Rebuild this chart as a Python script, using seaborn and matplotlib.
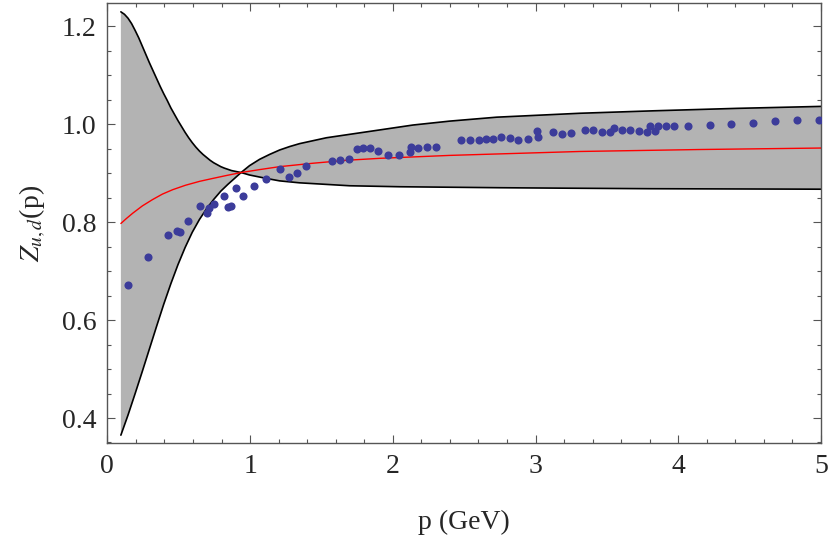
import numpy as np
import pandas as pd
import seaborn as sns
import matplotlib.pyplot as plt
from matplotlib.ticker import MultipleLocator, FormatStrFormatter

# bound that starts high and ends low
band_a_p = [0.095, 0.120, 0.145, 0.170, 0.195, 0.220, 0.245, 0.270, 0.295, 0.320,
            0.345, 0.370, 0.395, 0.420, 0.445, 0.470, 0.495, 0.520, 0.545, 0.570,
            0.595, 0.620, 0.645, 0.670, 0.695, 0.720, 0.745, 0.770, 0.795, 0.820,
            0.870, 0.937, 0.996, 1.114, 1.207, 1.347, 1.523, 1.698, 2.049, 2.400,
            2.751, 3.242, 3.804, 5.000]
band_a_z = [1.229, 1.224, 1.216, 1.205, 1.191, 1.176, 1.159, 1.142, 1.125, 1.109,
            1.093, 1.077, 1.062, 1.048, 1.033, 1.020, 1.007, 0.995, 0.983, 0.972,
            0.962, 0.953, 0.945, 0.938, 0.932, 0.926, 0.921, 0.917, 0.913, 0.910,
            0.905, 0.901, 0.896, 0.889, 0.884, 0.880, 0.877, 0.874, 0.872, 0.871,
            0.870, 0.869, 0.868, 0.867]

# bound that starts low and ends high
band_b_p = [0.095, 0.145, 0.195, 0.245, 0.295, 0.345, 0.395, 0.445, 0.495, 0.545,
            0.595, 0.645, 0.695, 0.745, 0.795, 0.845, 0.895, 0.937, 0.996, 1.067,
            1.137, 1.207, 1.277, 1.347, 1.535, 1.698, 1.909, 2.142, 2.400, 2.728,
            3.312, 3.827, 4.412, 5.000]
band_b_z = [0.365, 0.406, 0.450, 0.495, 0.541, 0.587, 0.632, 0.674, 0.713, 0.748,
            0.779, 0.805, 0.827, 0.846, 0.863, 0.877, 0.890, 0.901, 0.915, 0.928,
            0.938, 0.947, 0.954, 0.960, 0.972, 0.979, 0.988, 0.998, 1.006, 1.014,
            1.022, 1.027, 1.032, 1.036]

# red central curve
fit_p = [0.095, 0.133, 0.178, 0.246, 0.318, 0.386, 0.458, 0.547, 0.646, 0.739,
         0.835, 0.937, 1.067, 1.207, 1.441, 1.675, 1.909, 2.400, 3.312, 4.154,
         5.000]
fit_z = [0.797, 0.807, 0.818, 0.833, 0.846, 0.857, 0.866, 0.875, 0.883, 0.889,
         0.895, 0.901, 0.907, 0.913, 0.920, 0.926, 0.930, 0.936, 0.944, 0.948,
         0.951]

# lattice points
lat_p = [0.143, 0.285, 0.428, 0.491, 0.509, 0.568, 0.650, 0.696, 0.711, 0.750,
         0.816, 0.848, 0.865, 0.900, 0.951, 1.026, 1.110, 1.208, 1.273, 1.329,
         1.395, 1.577, 1.631, 1.696, 1.748, 1.790, 1.839, 1.897, 1.965, 2.042,
         2.121, 2.128, 2.177, 2.240, 2.306, 2.481, 2.542, 2.607, 2.652, 2.703,
         2.761, 2.820, 2.880, 2.950, 3.009, 3.020, 3.123, 3.186, 3.249, 3.345,
         3.404, 3.465, 3.521, 3.551, 3.607, 3.665, 3.726, 3.780, 3.803, 3.840,
         3.859, 3.915, 3.971, 4.067, 4.219, 4.369, 4.520, 4.677, 4.831, 4.989]
lat_z = [0.671, 0.729, 0.773, 0.782, 0.779, 0.803, 0.833, 0.818, 0.829, 0.837,
         0.854, 0.831, 0.833, 0.869, 0.854, 0.873, 0.888, 0.908, 0.892, 0.901,
         0.914, 0.924, 0.927, 0.929, 0.950, 0.952, 0.952, 0.944, 0.937, 0.937,
         0.943, 0.954, 0.952, 0.954, 0.954, 0.968, 0.967, 0.967, 0.969, 0.969,
         0.973, 0.972, 0.967, 0.970, 0.986, 0.974, 0.984, 0.980, 0.981, 0.988,
         0.988, 0.984, 0.983, 0.991, 0.988, 0.987, 0.986, 0.984, 0.995, 0.986,
         0.995, 0.995, 0.995, 0.997, 0.999, 1.001, 1.003, 1.006, 1.008, 1.009]

sns.set_style("ticks")
plt.rcParams['font.family'] = ['Liberation Serif', 'DejaVu Serif']
plt.rcParams['mathtext.fontset'] = 'stix'

fig = plt.figure(figsize=(8.3, 5.49), dpi=100)
ax = fig.add_axes([0.1293, 0.1931, 0.8599, 0.8014])

# gray band between the two bounds
ax.fill(np.concatenate([band_a_p, band_b_p[::-1]]),
        np.concatenate([band_a_z, band_b_z[::-1]]),
        color="#b3b3b3", lw=0, zorder=1)

line_kw = dict(ax=ax, sort=False, estimator=None, solid_joinstyle="round")
sns.lineplot(x=band_a_p, y=band_a_z, color="black", lw=1.2, zorder=2, **line_kw)
sns.lineplot(x=band_b_p, y=band_b_z, color="black", lw=1.2, zorder=2, **line_kw)
sns.lineplot(x=fit_p, y=fit_z, color="#ff0000", lw=1.0, zorder=3, **line_kw)
sns.scatterplot(x=lat_p, y=lat_z, color="#3c3c9a", s=34, linewidth=0, ax=ax,
                zorder=4)

ax.set_xlim(0, 5)
ax.set_ylim(0.349, 1.247)
ax.xaxis.set_major_locator(MultipleLocator(1))
ax.xaxis.set_minor_locator(MultipleLocator(0.2))
ax.yaxis.set_major_locator(MultipleLocator(0.2))
ax.yaxis.set_minor_locator(MultipleLocator(0.05))
ax.yaxis.set_major_formatter(FormatStrFormatter('%.1f'))
ax.xaxis.set_major_formatter(FormatStrFormatter('%d'))

for s in ax.spines.values():
    s.set_color("#555555")
    s.set_linewidth(1.0)
ax.tick_params(which='both', direction='in', top=True, right=True,
               color="#555555", width=0.8)
ax.tick_params(which='major', length=5.5, labelsize=20, pad=8)
ax.tick_params(which='minor', length=3)

ax.set_xlabel("p (GeV)", fontsize=20, labelpad=22)
ax.set_ylabel(r"$Z_{u,d}$(p)", fontsize=20, labelpad=10)

fig.savefig("out.png", dpi=100)
